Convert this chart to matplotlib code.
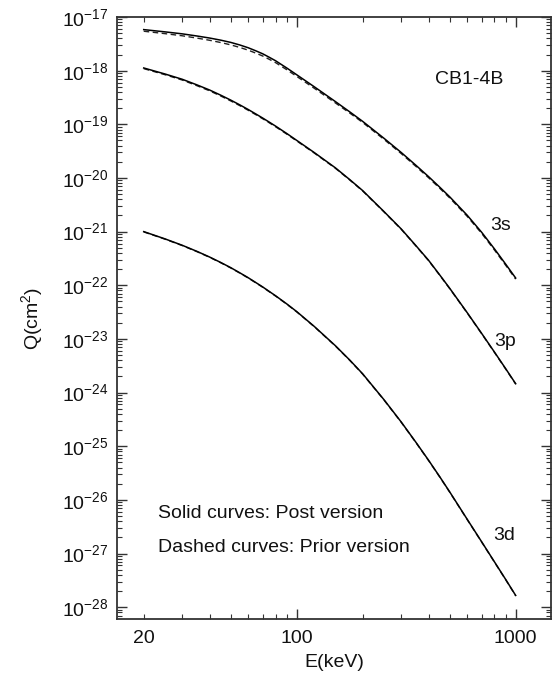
import numpy as np
import matplotlib
matplotlib.use("Agg")
import matplotlib.pyplot as plt
from matplotlib.ticker import FixedLocator, FixedFormatter, LogLocator, NullFormatter

plt.rcParams["font.family"] = ["Liberation Sans", "DejaVu Sans"]
plt.rcParams["mathtext.fontset"] = "custom"
plt.rcParams["mathtext.rm"] = "Liberation Sans"
plt.rcParams["mathtext.it"] = "Liberation Sans:italic"

# impact energy grid (keV)
energy = [20, 25, 30, 35, 40, 45, 50, 55, 60, 65, 70, 75, 80, 90, 100, 120, 150, 175, 200,
          250, 300, 350, 400, 450, 500, 600, 700, 800, 900, 1000]

# log10 of capture cross sections (cm^2), post version (solid)
log_q_3s_post = [-17.235, -17.277, -17.314, -17.354, -17.392, -17.432, -17.474, -17.522, -17.573,
                 -17.630, -17.687, -17.752, -17.815, -17.950, -18.077, -18.298, -18.575, -18.771,
                 -18.945, -19.259, -19.525, -19.763, -19.975, -20.172, -20.353, -20.693, -21.015,
                 -21.322, -21.606, -21.865]
log_q_3p_post = [-17.950, -18.062, -18.161, -18.265, -18.361, -18.458, -18.550, -18.639, -18.724,
                 -18.807, -18.885, -18.961, -19.033, -19.171, -19.300, -19.524, -19.810, -20.034,
                 -20.235, -20.624, -20.950, -21.260, -21.534, -21.808, -22.058, -22.508, -22.900,
                 -23.245, -23.554, -23.835]
log_q_3d_post = [-21.000, -21.135, -21.255, -21.368, -21.474, -21.576, -21.673, -21.769, -21.859,
                 -21.949, -22.033, -22.117, -22.195, -22.347, -22.491, -22.764, -23.125, -23.398,
                 -23.650, -24.130, -24.548, -24.925, -25.261, -25.569, -25.853, -26.359, -26.784,
                 -27.155, -27.482, -27.781]

# prior version (dashed)
log_q_3s_prior = [-17.265, -17.310, -17.350, -17.393, -17.434, -17.476, -17.520, -17.568, -17.618,
                  -17.673, -17.728, -17.790, -17.850, -17.982, -18.107, -18.326, -18.600, -18.793,
                  -18.965, -19.279, -19.545, -19.783, -19.995, -20.192, -20.373, -20.713, -21.035,
                  -21.342, -21.626, -21.885]
log_q_3p_prior = [-17.962, -18.075, -18.175, -18.280, -18.376, -18.473, -18.565, -18.653, -18.738,
                  -18.820, -18.898, -18.973, -19.045, -19.182, -19.310, -19.533, -19.818, -20.041,
                  -20.242, -20.630, -20.956, -21.266, -21.540, -21.814, -22.064, -22.514, -22.906,
                  -23.251, -23.560, -23.841]
log_q_3d_prior = [-21.005, -21.140, -21.260, -21.373, -21.479, -21.581, -21.678, -21.774, -21.864,
                  -21.954, -22.038, -22.122, -22.200, -22.352, -22.496, -22.769, -23.130, -23.403,
                  -23.655, -24.135, -24.553, -24.930, -25.266, -25.574, -25.858, -26.364, -26.789,
                  -27.160, -27.487, -27.786]

labels = ["3s", "3p", "3d"]
label_pos = [(501, 226), (505, 341), (504, 535)]  # pixel centres

W, H = 552, 685
fig = plt.figure(figsize=(W / 100, H / 100), dpi=100)
ax = fig.add_axes([117 / W, 1 - 619 / H, (551 - 117) / W, (619 - 17) / H])

for post, prior in [(log_q_3s_post, log_q_3s_prior),
                    (log_q_3p_post, log_q_3p_prior),
                    (log_q_3d_post, log_q_3d_prior)]:
    ax.plot(energy, 10.0 ** np.array(prior), color="#222222", lw=1.0, ls=(0, (4, 2.5)))
    ax.plot(energy, 10.0 ** np.array(post), color="black", lw=1.1)

ax.set_xscale("log")
ax.set_yscale("log")
ax.set_xlim(15.1, 1450)
ax.set_ylim(10 ** -28.22, 1e-17)

# x ticks: majors at decades, label 20 on the minor set
ax.xaxis.set_major_locator(FixedLocator([100, 1000]))
ax.xaxis.set_major_formatter(FixedFormatter(["100", "1000"]))
minors = [20, 30, 40, 50, 60, 70, 80, 90, 200, 300, 400, 500, 600, 700, 800, 900]
ax.xaxis.set_minor_locator(FixedLocator(minors))
ax.xaxis.set_minor_formatter(FixedFormatter(["20"] + [""] * (len(minors) - 1)))

ax.yaxis.set_major_locator(FixedLocator([10.0 ** k for k in range(-28, -16)]))
ax.yaxis.set_major_formatter(FixedFormatter([r"$\mathregular{10^{%d}}$" % k for k in range(-28, -16)]))
ax.yaxis.set_minor_locator(LogLocator(base=10, subs=np.arange(2, 10), numticks=30))
ax.yaxis.set_minor_formatter(NullFormatter())

spine_col = "#333333"
for s in ax.spines.values():
    s.set_color(spine_col)
    s.set_linewidth(1.3)

ax.tick_params(which="both", direction="in", top=True, right=True, colors=spine_col,
               labelcolor="#111111", labelsize=14)
ax.tick_params(which="major", length=7, width=1.0)
ax.tick_params(which="minor", length=3.5, width=0.8)
ax.tick_params(axis="x", which="both", pad=8)
ax.tick_params(axis="y", which="both", pad=6)

ax.set_xlabel("E(keV)", fontsize=14, color="#111111", labelpad=5)
ax.set_ylabel(r"Q(cm$^\mathregular{2}$)", fontsize=14, color="#111111", labelpad=12)

def px(x, y):
    return x / W, 1 - y / H

fig.text(*px(469, 80), "CB1-4B", fontsize=14, ha="center", va="center", color="#111111")
for lab, (x, y) in zip(labels, label_pos):
    fig.text(*px(x, y), lab, fontsize=14, ha="center", va="center", color="#111111")
fig.text(*px(158, 514), "Solid curves: Post version", fontsize=14, ha="left", va="center",
         color="#111111")
fig.text(*px(158, 548), "Dashed curves: Prior version", fontsize=14, ha="left", va="center",
         color="#111111")

fig.savefig("out.png", dpi=100)
